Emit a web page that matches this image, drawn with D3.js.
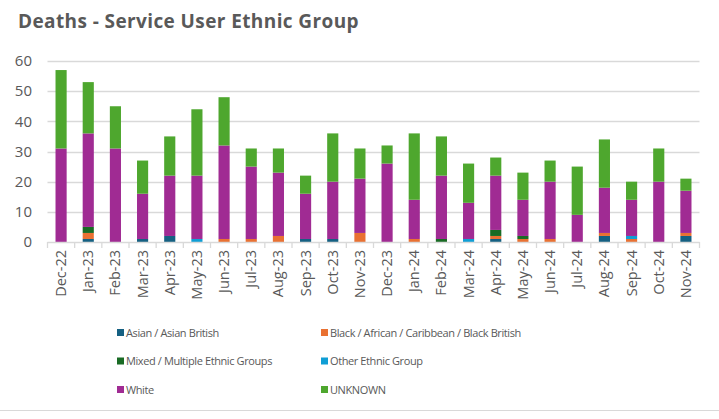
<!DOCTYPE html>
<html>
<head>
<meta charset="utf-8">
<script src="https://cdn.jsdelivr.net/npm/d3@7"></script>
<style>
  html, body { margin: 0; padding: 0; background: #fff; }
  svg { display: block; }
  text { font-family: "Open Sans", "Noto Sans", sans-serif; fill: #595959; }
</style>
</head>
<body>
<svg id="chart" width="719" height="419"></svg>
<script>
// Monthly deaths by service user ethnic group
const months = ["Dec-22","Jan-23","Feb-23","Mar-23","Apr-23","May-23","Jun-23","Jul-23","Aug-23","Sep-23","Oct-23","Nov-23",
                "Dec-23","Jan-24","Feb-24","Mar-24","Apr-24","May-24","Jun-24","Jul-24","Aug-24","Sep-24","Oct-24","Nov-24"];
const asian   = [0,1,0,1,2,0,0,0,0,1,1,0, 0,0,0,0,1,0,0,0,2,0,0,2];
const black   = [0,2,0,0,0,0,1,1,2,0,0,3, 0,1,0,0,1,1,1,0,1,1,0,1];
const mixed   = [0,2,0,0,0,0,0,0,0,0,0,0, 0,0,1,0,2,1,0,0,0,0,0,0];
const other   = [0,0,0,0,0,1,0,0,0,0,0,0, 0,0,0,1,0,0,0,0,0,1,0,0];
const white   = [31,31,31,15,20,21,31,24,21,15,19,18, 26,13,21,12,18,12,19,9,15,12,20,14];
const unknown = [26,17,14,11,13,22,16,6,8,6,16,10, 6,22,13,13,6,9,7,16,16,6,11,4];
const yTicks = [0,10,20,30,40,50,60];

const seriesDefs = [
  { key: "asian",   name: "Asian / Asian British",                       color: "#156082", values: asian },
  { key: "black",   name: "Black / African / Caribbean / Black British", color: "#E97132", values: black },
  { key: "mixed",   name: "Mixed / Multiple Ethnic Groups",              color: "#196B24", values: mixed },
  { key: "other",   name: "Other Ethnic Group",                          color: "#0F9ED5", values: other },
  { key: "white",   name: "White",                                       color: "#A02B93", values: white },
  { key: "unknown", name: "UNKNOWN",                                     color: "#4EA72E", values: unknown }
];

const rows = months.map((m, i) => {
  const r = { month: m };
  seriesDefs.forEach(s => { r[s.key] = s.values[i]; });
  return r;
});

const svg = d3.select("#chart");

// Title
svg.append("text")
  .attr("x", 18).attr("y", 28)
  .style("font-size", "19px").style("font-weight", "700").style("letter-spacing", "0.4px")
  .text("Deaths - Service User Ethnic Group");

const x = d3.scaleBand().domain(months).range([47.5, 699.5]).paddingInner(0.59).paddingOuter(0.295);
const y = d3.scaleLinear().domain([0, 60]).range([242, 61]);

// Gridlines
svg.append("g").selectAll("line").data(yTicks.filter(t => t > 0)).join("line")
  .attr("x1", 47.5).attr("x2", 699.5)
  .attr("y1", d => Math.round(y(d)) + 0.5).attr("y2", d => Math.round(y(d)) + 0.5)
  .attr("stroke", "#d9d9d9").attr("stroke-width", 1.3);

// Y axis labels
const yAxis = d3.axisLeft(y).tickValues(yTicks).tickSize(0).tickPadding(0);
const gy = svg.append("g").attr("transform", "translate(32,0)").call(yAxis);
gy.select(".domain").remove();
gy.selectAll("text").style("font-size", "15px").style("font-family", null).attr("fill", null);

// Stacked bars
const stack = d3.stack().keys(seriesDefs.map(s => s.key));
const layers = stack(rows);
svg.append("g").selectAll("g").data(layers).join("g")
  .attr("fill", (d, i) => seriesDefs[i].color)
  .selectAll("rect").data(d => d).join("rect")
  .attr("x", d => x(d.data.month))
  .attr("width", x.bandwidth())
  .attr("y", d => y(d[1]))
  .attr("height", d => y(d[0]) - y(d[1]));

// X axis baseline with ticks at category boundaries
const step = x.step();
const x0 = 47.5;
svg.append("line")
  .attr("x1", x0).attr("x2", 699.5).attr("y1", 242.5).attr("y2", 242.5)
  .attr("stroke", "#d9d9d9").attr("stroke-width", 1.3);
svg.append("g").selectAll("line").data(d3.range(months.length + 1)).join("line")
  .attr("x1", i => x0 + i * step).attr("x2", i => x0 + i * step)
  .attr("y1", 242).attr("y2", 248)
  .attr("stroke", "#d9d9d9").attr("stroke-width", 1.3);

// X axis labels (rotated)
svg.append("g").selectAll("text").data(months).join("text")
  .attr("transform", d => `translate(${x(d) + x.bandwidth() / 2},250) rotate(-90)`)
  .attr("text-anchor", "end").attr("dy", "0.35em")
  .style("font-size", "14.5px")
  .text(d => d);

// Legend: two columns, three rows
const legend = svg.append("g");
seriesDefs.forEach((s, i) => {
  const col = i % 2, row = Math.floor(i / 2);
  const lx = col === 0 ? 117 : 321;
  const ly = 333 + row * 28.5;
  legend.append("rect").attr("x", lx).attr("y", ly - 4).attr("width", 7).attr("height", 7).attr("fill", s.color);
  legend.append("text").attr("x", lx + 9).attr("y", ly).attr("dy", "0.35em")
    .style("font-size", "11px").style("letter-spacing", "-0.4px").text(s.name);
});

// Bottom frame line
svg.append("line").attr("x1", 0).attr("x2", 719).attr("y1", 410.5).attr("y2", 410.5)
  .attr("stroke", "#d9d9d9").attr("stroke-width", 1);
</script>
</body>
</html>
